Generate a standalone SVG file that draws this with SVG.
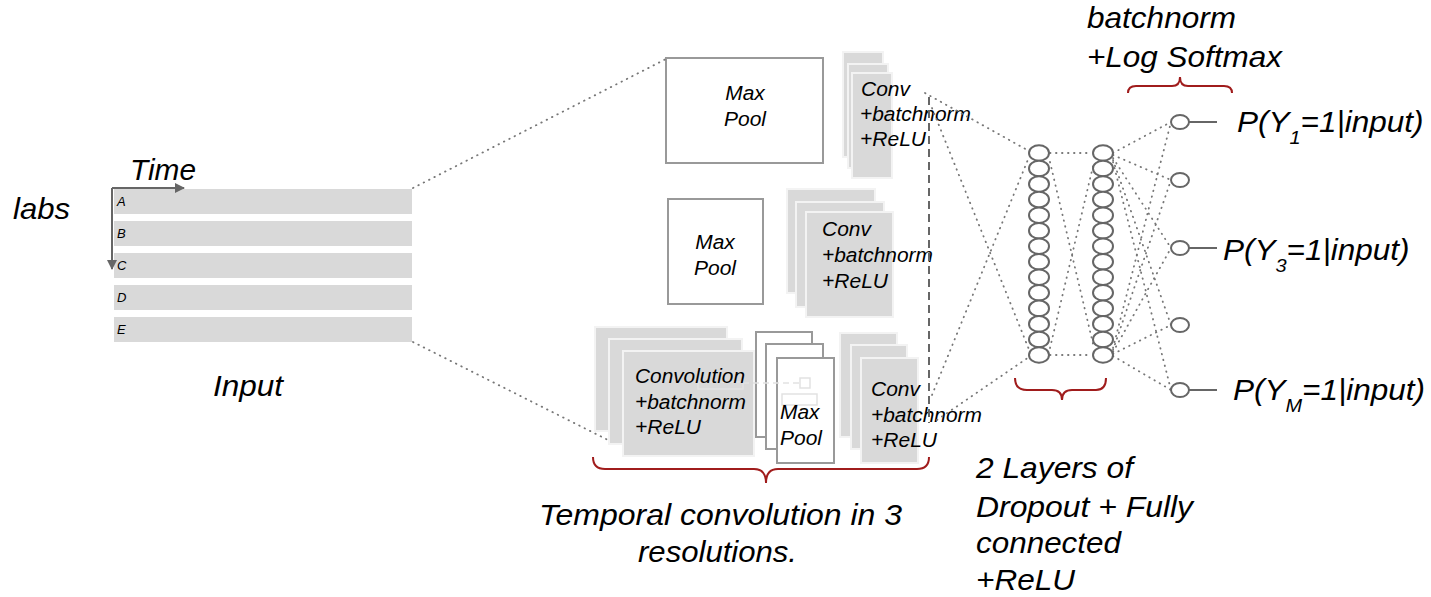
<svg xmlns="http://www.w3.org/2000/svg" width="1431" height="597" viewBox="0 0 1431 597">
  <defs>
    <marker id="arr" viewBox="0 0 10 10" refX="9" refY="5" markerWidth="5" markerHeight="5" orient="auto" markerUnits="strokeWidth">
      <path d="M0,0 L10,5 L0,10 z" fill="#666"/>
    </marker>
    <style>
      text { font-family: "Liberation Sans", Arial, sans-serif; font-style: italic; fill: #000; }
      .big { font-size: 30px; }
      .sm { font-size: 20px; }
      .tiny { font-size: 13px; }
      .bar { fill: #d9d9d9; }
      .layer { fill: #d9d9d9; stroke: #f3f3f3; stroke-width: 2; }
      .pool { fill: #fff; stroke: #999; stroke-width: 2; }
      .dot { fill: none; stroke: #777; stroke-width: 1.8; stroke-dasharray: 0.5 5.5; stroke-linecap: round; }
      .unit { fill: #fff; stroke: #666; stroke-width: 2; }
      .brace { fill: none; stroke: #a01c1c; stroke-width: 2; }
      .axis { stroke: #666; stroke-width: 2; fill: none; }
    </style>
  </defs>
  <rect width="1431" height="597" fill="#fff"/>

  <!-- input time series -->
  <g id="input">
    <rect class="bar" x="114" y="189" width="298" height="25"/>
    <rect class="bar" x="114" y="221" width="298" height="25"/>
    <rect class="bar" x="114" y="253" width="298" height="25"/>
    <rect class="bar" x="114" y="285" width="298" height="25"/>
    <rect class="bar" x="114" y="317" width="298" height="25"/>
    <text class="tiny" x="117" y="206">A</text>
    <text class="tiny" x="117" y="238">B</text>
    <text class="tiny" x="117" y="270">C</text>
    <text class="tiny" x="117" y="302">D</text>
    <text class="tiny" x="117" y="334">E</text>
    <line class="axis" x1="112" y1="188" x2="184" y2="188" marker-end="url(#arr)"/>
    <line class="axis" x1="112" y1="188" x2="112" y2="269" marker-end="url(#arr)"/>
    <text class="big" x="130" y="180" textLength="66" lengthAdjust="spacingAndGlyphs">Time</text>
    <text class="big" x="13" y="219" textLength="57" lengthAdjust="spacingAndGlyphs">labs</text>
    <text class="big" x="213" y="396" textLength="70" lengthAdjust="spacingAndGlyphs">Input</text>
  </g>

  <!-- coarse resolution -->
  <g id="pool-top">
    <rect class="pool" x="666" y="58" width="157" height="105"/>
    <text class="sm" x="745" y="100" text-anchor="middle" textLength="39.5" lengthAdjust="spacingAndGlyphs">Max</text>
    <text class="sm" x="745" y="126" text-anchor="middle" textLength="42" lengthAdjust="spacingAndGlyphs">Pool</text>
  </g>
  <g id="conv-top">
    <rect class="layer" x="843" y="52" width="40" height="105"/>
    <rect class="layer" x="848" y="64" width="40" height="104"/>
    <rect class="layer" x="852" y="73" width="40" height="105"/>
    <text class="sm" x="861" y="96" textLength="49" lengthAdjust="spacingAndGlyphs">Conv</text>
    <text class="sm" x="860" y="121" textLength="111" lengthAdjust="spacingAndGlyphs">+batchnorm</text>
    <text class="sm" x="860" y="146" textLength="66" lengthAdjust="spacingAndGlyphs">+ReLU</text>
  </g>

  <!-- medium resolution -->
  <g id="pool-mid">
    <rect class="pool" x="668" y="199" width="95" height="105"/>
    <text class="sm" x="715" y="249" text-anchor="middle" textLength="39.5" lengthAdjust="spacingAndGlyphs">Max</text>
    <text class="sm" x="715" y="275" text-anchor="middle" textLength="42" lengthAdjust="spacingAndGlyphs">Pool</text>
  </g>
  <g id="conv-mid">
    <rect class="layer" x="787" y="189" width="88" height="104"/>
    <rect class="layer" x="796" y="202" width="88" height="105"/>
    <rect class="layer" x="806" y="212" width="87" height="105"/>
    <text class="sm" x="822" y="236" textLength="49" lengthAdjust="spacingAndGlyphs">Conv</text>
    <text class="sm" x="822" y="262" textLength="111" lengthAdjust="spacingAndGlyphs">+batchnorm</text>
    <text class="sm" x="822" y="288" textLength="66" lengthAdjust="spacingAndGlyphs">+ReLU</text>
  </g>

  <!-- fine resolution -->
  <g id="conv-bottom">
    <rect class="layer" x="595" y="327" width="132" height="104"/>
    <rect class="layer" x="609" y="339" width="133" height="105"/>
    <rect class="layer" x="623" y="351" width="131" height="105"/>
  </g>
  <g id="pool-bottom">
    <rect class="pool" x="756" y="332" width="56" height="105"/>
    <rect class="pool" x="766" y="344" width="57" height="105"/>
    <rect class="pool" x="777" y="358" width="57" height="105"/>
    <g fill="none" stroke="#e2e2e2" stroke-width="1.5">
      <rect x="698" y="382" width="45" height="7"/>
      <line x1="743" y1="383" x2="800" y2="383" stroke-dasharray="6 4"/>
      <rect x="800" y="378" width="10" height="10"/>
      <rect x="782" y="394" width="35" height="11"/>
    </g>
    <text class="sm" x="780" y="419" textLength="39.5" lengthAdjust="spacingAndGlyphs">Max</text>
    <text class="sm" x="780" y="445" textLength="42" lengthAdjust="spacingAndGlyphs">Pool</text>
  </g>
  <g id="conv-bottom-label">
    <text class="sm" x="635" y="383" textLength="110" lengthAdjust="spacingAndGlyphs">Convolution</text>
    <text class="sm" x="635" y="409" textLength="111" lengthAdjust="spacingAndGlyphs">+batchnorm</text>
    <text class="sm" x="635" y="434" textLength="66" lengthAdjust="spacingAndGlyphs">+ReLU</text>
  </g>
  <g id="conv-bottom-2">
    <rect class="layer" x="840" y="333" width="57" height="104"/>
    <rect class="layer" x="851" y="345" width="56" height="104"/>
    <rect class="layer" x="861" y="358" width="57" height="105"/>
    <text class="sm" x="871" y="396" textLength="49" lengthAdjust="spacingAndGlyphs">Conv</text>
    <text class="sm" x="871" y="422" textLength="111" lengthAdjust="spacingAndGlyphs">+batchnorm</text>
    <text class="sm" x="871" y="447" textLength="66" lengthAdjust="spacingAndGlyphs">+ReLU</text>
  </g>

  <!-- concatenation marker -->
  <line x1="929" y1="97" x2="929" y2="423" stroke="#666" stroke-width="2" stroke-dasharray="8 5"/>

  <!-- connectors -->
  <g id="connectors">
    <line class="dot" x1="413" y1="188" x2="666" y2="59"/>
    <line class="dot" x1="413" y1="342" x2="610" y2="441"/>
    <line class="dot" x1="925" y1="93" x2="1029" y2="151"/>
    <line class="dot" x1="932" y1="108" x2="1030" y2="352"/>
    <line class="dot" x1="932" y1="395" x2="1029" y2="157"/>
    <line class="dot" x1="937" y1="420" x2="1029" y2="357"/>
    <line class="dot" x1="1050" y1="153" x2="1092" y2="153"/>
    <line class="dot" x1="1050" y1="355" x2="1092" y2="355"/>
    <line class="dot" x1="1050" y1="162" x2="1094" y2="348"/>
    <line class="dot" x1="1050" y1="348" x2="1094" y2="162"/>
    <line class="dot" x1="1113" y1="153" x2="1171" y2="122"/>
    <line class="dot" x1="1113" y1="155" x2="1171" y2="180"/>
    <line class="dot" x1="1113" y1="158" x2="1171" y2="248"/>
    <line class="dot" x1="1113" y1="160" x2="1171" y2="325"/>
    <line class="dot" x1="1113" y1="162" x2="1171" y2="390"/>
    <line class="dot" x1="1113" y1="348" x2="1171" y2="122"/>
    <line class="dot" x1="1113" y1="350" x2="1171" y2="180"/>
    <line class="dot" x1="1113" y1="352" x2="1171" y2="248"/>
    <line class="dot" x1="1113" y1="354" x2="1171" y2="325"/>
    <line class="dot" x1="1113" y1="356" x2="1171" y2="390"/>
    <line stroke="#666" stroke-width="2" x1="1189" y1="122" x2="1217" y2="122"/>
    <line stroke="#666" stroke-width="2" x1="1189" y1="248" x2="1217" y2="248"/>
    <line stroke="#666" stroke-width="2" x1="1189" y1="390" x2="1217" y2="390"/>
  </g>

  <!-- fully connected layers -->
  <g id="fc1">
    <ellipse class="unit" cx="1039" cy="153" rx="10" ry="7.8"/>
    <ellipse class="unit" cx="1039" cy="168.5" rx="10" ry="7.8"/>
    <ellipse class="unit" cx="1039" cy="184.1" rx="10" ry="7.8"/>
    <ellipse class="unit" cx="1039" cy="199.6" rx="10" ry="7.8"/>
    <ellipse class="unit" cx="1039" cy="215.2" rx="10" ry="7.8"/>
    <ellipse class="unit" cx="1039" cy="230.7" rx="10" ry="7.8"/>
    <ellipse class="unit" cx="1039" cy="246.2" rx="10" ry="7.8"/>
    <ellipse class="unit" cx="1039" cy="261.8" rx="10" ry="7.8"/>
    <ellipse class="unit" cx="1039" cy="277.3" rx="10" ry="7.8"/>
    <ellipse class="unit" cx="1039" cy="292.8" rx="10" ry="7.8"/>
    <ellipse class="unit" cx="1039" cy="308.4" rx="10" ry="7.8"/>
    <ellipse class="unit" cx="1039" cy="323.9" rx="10" ry="7.8"/>
    <ellipse class="unit" cx="1039" cy="339.5" rx="10" ry="7.8"/>
    <ellipse class="unit" cx="1039" cy="355" rx="10" ry="7.8"/>
  </g>
  <g id="fc2">
    <ellipse class="unit" cx="1103" cy="153" rx="10" ry="7.8"/>
    <ellipse class="unit" cx="1103" cy="168.5" rx="10" ry="7.8"/>
    <ellipse class="unit" cx="1103" cy="184.1" rx="10" ry="7.8"/>
    <ellipse class="unit" cx="1103" cy="199.6" rx="10" ry="7.8"/>
    <ellipse class="unit" cx="1103" cy="215.2" rx="10" ry="7.8"/>
    <ellipse class="unit" cx="1103" cy="230.7" rx="10" ry="7.8"/>
    <ellipse class="unit" cx="1103" cy="246.2" rx="10" ry="7.8"/>
    <ellipse class="unit" cx="1103" cy="261.8" rx="10" ry="7.8"/>
    <ellipse class="unit" cx="1103" cy="277.3" rx="10" ry="7.8"/>
    <ellipse class="unit" cx="1103" cy="292.8" rx="10" ry="7.8"/>
    <ellipse class="unit" cx="1103" cy="308.4" rx="10" ry="7.8"/>
    <ellipse class="unit" cx="1103" cy="323.9" rx="10" ry="7.8"/>
    <ellipse class="unit" cx="1103" cy="339.5" rx="10" ry="7.8"/>
    <ellipse class="unit" cx="1103" cy="355" rx="10" ry="7.8"/>
  </g>

  <!-- output units -->
  <g id="out">
    <ellipse class="unit" cx="1180" cy="122" rx="9" ry="7"/>
    <ellipse class="unit" cx="1180" cy="180" rx="9" ry="7"/>
    <ellipse class="unit" cx="1180" cy="248" rx="9" ry="7"/>
    <ellipse class="unit" cx="1180" cy="325" rx="9" ry="7"/>
    <ellipse class="unit" cx="1180" cy="390" rx="9" ry="7" stroke="#000"/>
  </g>
  <g id="labels-out">
    <text class="big" transform="translate(1237,132) scale(1.05,1)">P(Y<tspan font-size="19" dy="12">1</tspan><tspan dy="-12">=1|input)</tspan></text>
    <text class="big" transform="translate(1223,260) scale(1.05,1)">P(Y<tspan font-size="19" dy="12">3</tspan><tspan dy="-12">=1|input)</tspan></text>
    <text class="big" transform="translate(1233,400) scale(1.05,1)">P(Y<tspan font-size="19" dy="12">M</tspan><tspan dy="-12">=1|input)</tspan></text>
  </g>

  <!-- braces and captions -->
  <g id="caption-conv">
    <path class="brace" d="M593,457 Q593,469 605,469 L754,469 Q766,469 766,483 Q766,469 778,469 L917,469 Q929,469 929,457"/>
    <text class="big" x="539" y="525" textLength="363" lengthAdjust="spacingAndGlyphs">Temporal convolution in 3</text>
    <text class="big" x="638" y="562" textLength="159" lengthAdjust="spacingAndGlyphs">resolutions.</text>
  </g>
  <g id="caption-fc">
    <path class="brace" d="M1015,378 Q1015,390 1027,390 L1052,390 Q1062,390 1062,400 Q1062,390 1072,390 L1096,390 Q1106,390 1106,378"/>
    <text class="big" x="976" y="478" textLength="157" lengthAdjust="spacingAndGlyphs">2 Layers of</text>
    <text class="big" x="976" y="517" textLength="217" lengthAdjust="spacingAndGlyphs">Dropout + Fully</text>
    <text class="big" x="976" y="553" textLength="145" lengthAdjust="spacingAndGlyphs">connected</text>
    <text class="big" x="976" y="590" textLength="99" lengthAdjust="spacingAndGlyphs">+ReLU</text>
  </g>
  <g id="caption-out">
    <path class="brace" d="M1128,93 Q1128,86 1136,86 L1172,86 Q1180,86 1180,77 Q1180,86 1188,86 L1224,86 Q1232,86 1232,93"/>
    <text class="big" x="1087" y="28" textLength="149" lengthAdjust="spacingAndGlyphs">batchnorm</text>
    <text class="big" x="1087" y="67" textLength="195" lengthAdjust="spacingAndGlyphs">+Log Softmax</text>
  </g>
</svg>
